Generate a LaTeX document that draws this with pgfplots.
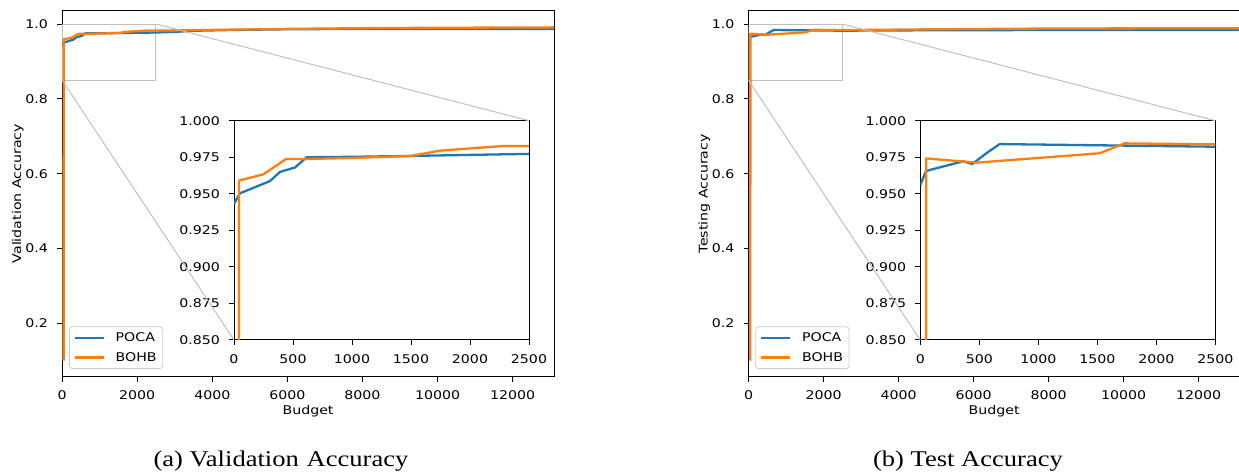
\documentclass[border=0pt]{standalone}
\usepackage{fontspec}
\setmainfont{DejaVu Sans}[FakeStretch=1.18]
\newfontfamily\capfont{Liberation Serif}[FakeStretch=1.18]
\usepackage{pgfplots}
\pgfplotsset{compat=1.18}
\definecolor{tabblue}{HTML}{1F77B4}
\definecolor{taborange}{HTML}{FF7F0E}
\definecolor{zoomgray}{HTML}{BFBFBF}
\newcommand{\tf}{\fontsize{12}{14}\selectfont}

\pgfplotstableread{
x y
0 0.943
50 0.9503
305 0.9587
390 0.965
517 0.968
616 0.975
1000 0.9753
1500 0.9759
2500 0.9773
3000 0.979
3500 0.982
4500 0.984
6000 0.986
8000 0.987
13100 0.987
}\valpoca
\pgfplotstableread{
x y
40 0.100
42 0.959
249 0.9633
441 0.9738
620 0.9738
1000 0.9745
1492 0.9758
1746 0.9795
2283 0.9827
2500 0.9827
3000 0.983
4500 0.985
6000 0.987
8000 0.989
10000 0.990
13100 0.991
}\valbohb
\pgfplotstableread{
x y
0 0.956
48 0.9656
362 0.9722
441 0.9704
559 0.9777
672 0.984
2500 0.9822
4000 0.983
8000 0.984
13100 0.984
}\testpoca
\pgfplotstableread{
x y
48 0.100
50 0.9742
475 0.9713
1520 0.9777
1732 0.9845
2500 0.9838
5000 0.986
8000 0.988
13100 0.989
}\testbohb

\pgfplotsset{
  mplbase/.style={
    scale only axis,
    scaled x ticks=false, scaled y ticks=false,
    axis line style={black, line width=1pt},
    tick align=outside,
    xtick pos=bottom, ytick pos=left,
    major tick length=5pt,
    every tick/.style={black, line width=1pt},
    tick label style={font=\tf},
    xticklabel style={anchor=north, inner sep=0pt, yshift=-9pt},
    yticklabel style={anchor=east, inner sep=0pt, xshift=-9pt},
    every axis plot/.append style={line width=2.3pt, line join=round},
    label style={font=\tf},
  },
  mainax/.style={
    mplbase, anchor=south west, width=491.9pt, height=366pt,
    xmin=0, xmax=13100, ymin=0.0573, ymax=1.0356,
    xtick={0,2000,4000,6000,8000,10000,12000},
    xticklabels={0,2000,4000,6000,8000,10000,12000},
    ytick={0.2,0.4,0.6,0.8,1.0},
    yticklabels={0.2,0.4,0.6,0.8,1.0},
    xlabel={Budget},
    xlabel style={at={(axis description cs:0.5,-0.093)}, anchor=center},
    ylabel style={at={(axis description cs:-0.09,0.5)}, anchor=center},
    legend style={at={(axis description cs:0.014,0.021)}, anchor=south west,
      draw=black!20, line width=0.8pt, rounded corners=3pt, fill=white,
      font=\tf, inner xsep=4pt, inner ysep=4pt, row sep=5pt,
      /tikz/every odd column/.append style={column sep=9pt}},
    legend cell align=left,
    legend image code/.code={\draw[#1] (0pt,0pt) -- (29pt,0pt);},
  },
  insetax/.style={
    mplbase, anchor=south west, width=295pt, height=219.3pt,
    xmin=0, xmax=2500, ymin=0.85, ymax=1.0,
    xtick={0,500,1000,1500,2000,2500},
    xticklabels={0,500,1000,1500,2000,2500},
    ytick={0.85,0.875,0.9,0.925,0.95,0.975,1.0},
    yticklabels={0.850,0.875,0.900,0.925,0.950,0.975,1.000},
    axis background/.style={fill=white},
  },
}

\begin{document}
\begin{tikzpicture}
\path[use as bounding box] (0pt,0pt) rectangle (1239pt,-472pt);

% ---------- (a) Validation ----------
\begin{axis}[mainax, at={(62.1pt,-376.7pt)}, ylabel={Validation Accuracy}]
\draw[zoomgray, line width=1pt] (axis cs:0,0.85) rectangle (axis cs:2500,1.0);
\coordinate (A1) at (axis cs:0,0.85);
\coordinate (A2) at (axis cs:2500,1.0);
\addplot[tabblue] table[x=x,y=y] {\valpoca};
\addplot[taborange] table[x=x,y=y] {\valbohb};
\legend{POCA,BOHB}
\end{axis}
\begin{axis}[insetax, name=insA, at={(234pt,-340pt)}]
\addplot[tabblue] table[x=x,y=y] {\valpoca};
\addplot[taborange] table[x=x,y=y] {\valbohb};
\end{axis}
\draw[zoomgray, line width=1pt] (A1) -- (insA.south west);
\draw[zoomgray, line width=1pt] (A2) -- (insA.north east);

% ---------- (b) Test ----------
\begin{axis}[mainax, at={(748.5pt,-376.7pt)}, width=491.4pt, ylabel={Testing Accuracy}]
\draw[zoomgray, line width=1pt] (axis cs:0,0.85) rectangle (axis cs:2500,1.0);
\coordinate (B1) at (axis cs:0,0.85);
\coordinate (B2) at (axis cs:2500,1.0);
\addplot[tabblue] table[x=x,y=y] {\testpoca};
\addplot[taborange] table[x=x,y=y] {\testbohb};
\legend{POCA,BOHB}
\end{axis}
\begin{axis}[insetax, name=insB, at={(920.3pt,-340pt)}]
\addplot[tabblue] table[x=x,y=y] {\testpoca};
\addplot[taborange] table[x=x,y=y] {\testbohb};
\end{axis}
\draw[zoomgray, line width=1pt] (B1) -- (insB.south west);
\draw[zoomgray, line width=1pt] (B2) -- (insB.north east);

% captions
\node[anchor=base, font=\capfont\fontsize{22.5}{26}\selectfont] at (281pt,-466.5pt) {(a) Validation\hspace{0.35em}Accuracy};
\node[anchor=base, font=\capfont\fontsize{22.5}{26}\selectfont] at (968pt,-466.5pt) {(b) Test Accuracy};
\end{tikzpicture}
\end{document}
